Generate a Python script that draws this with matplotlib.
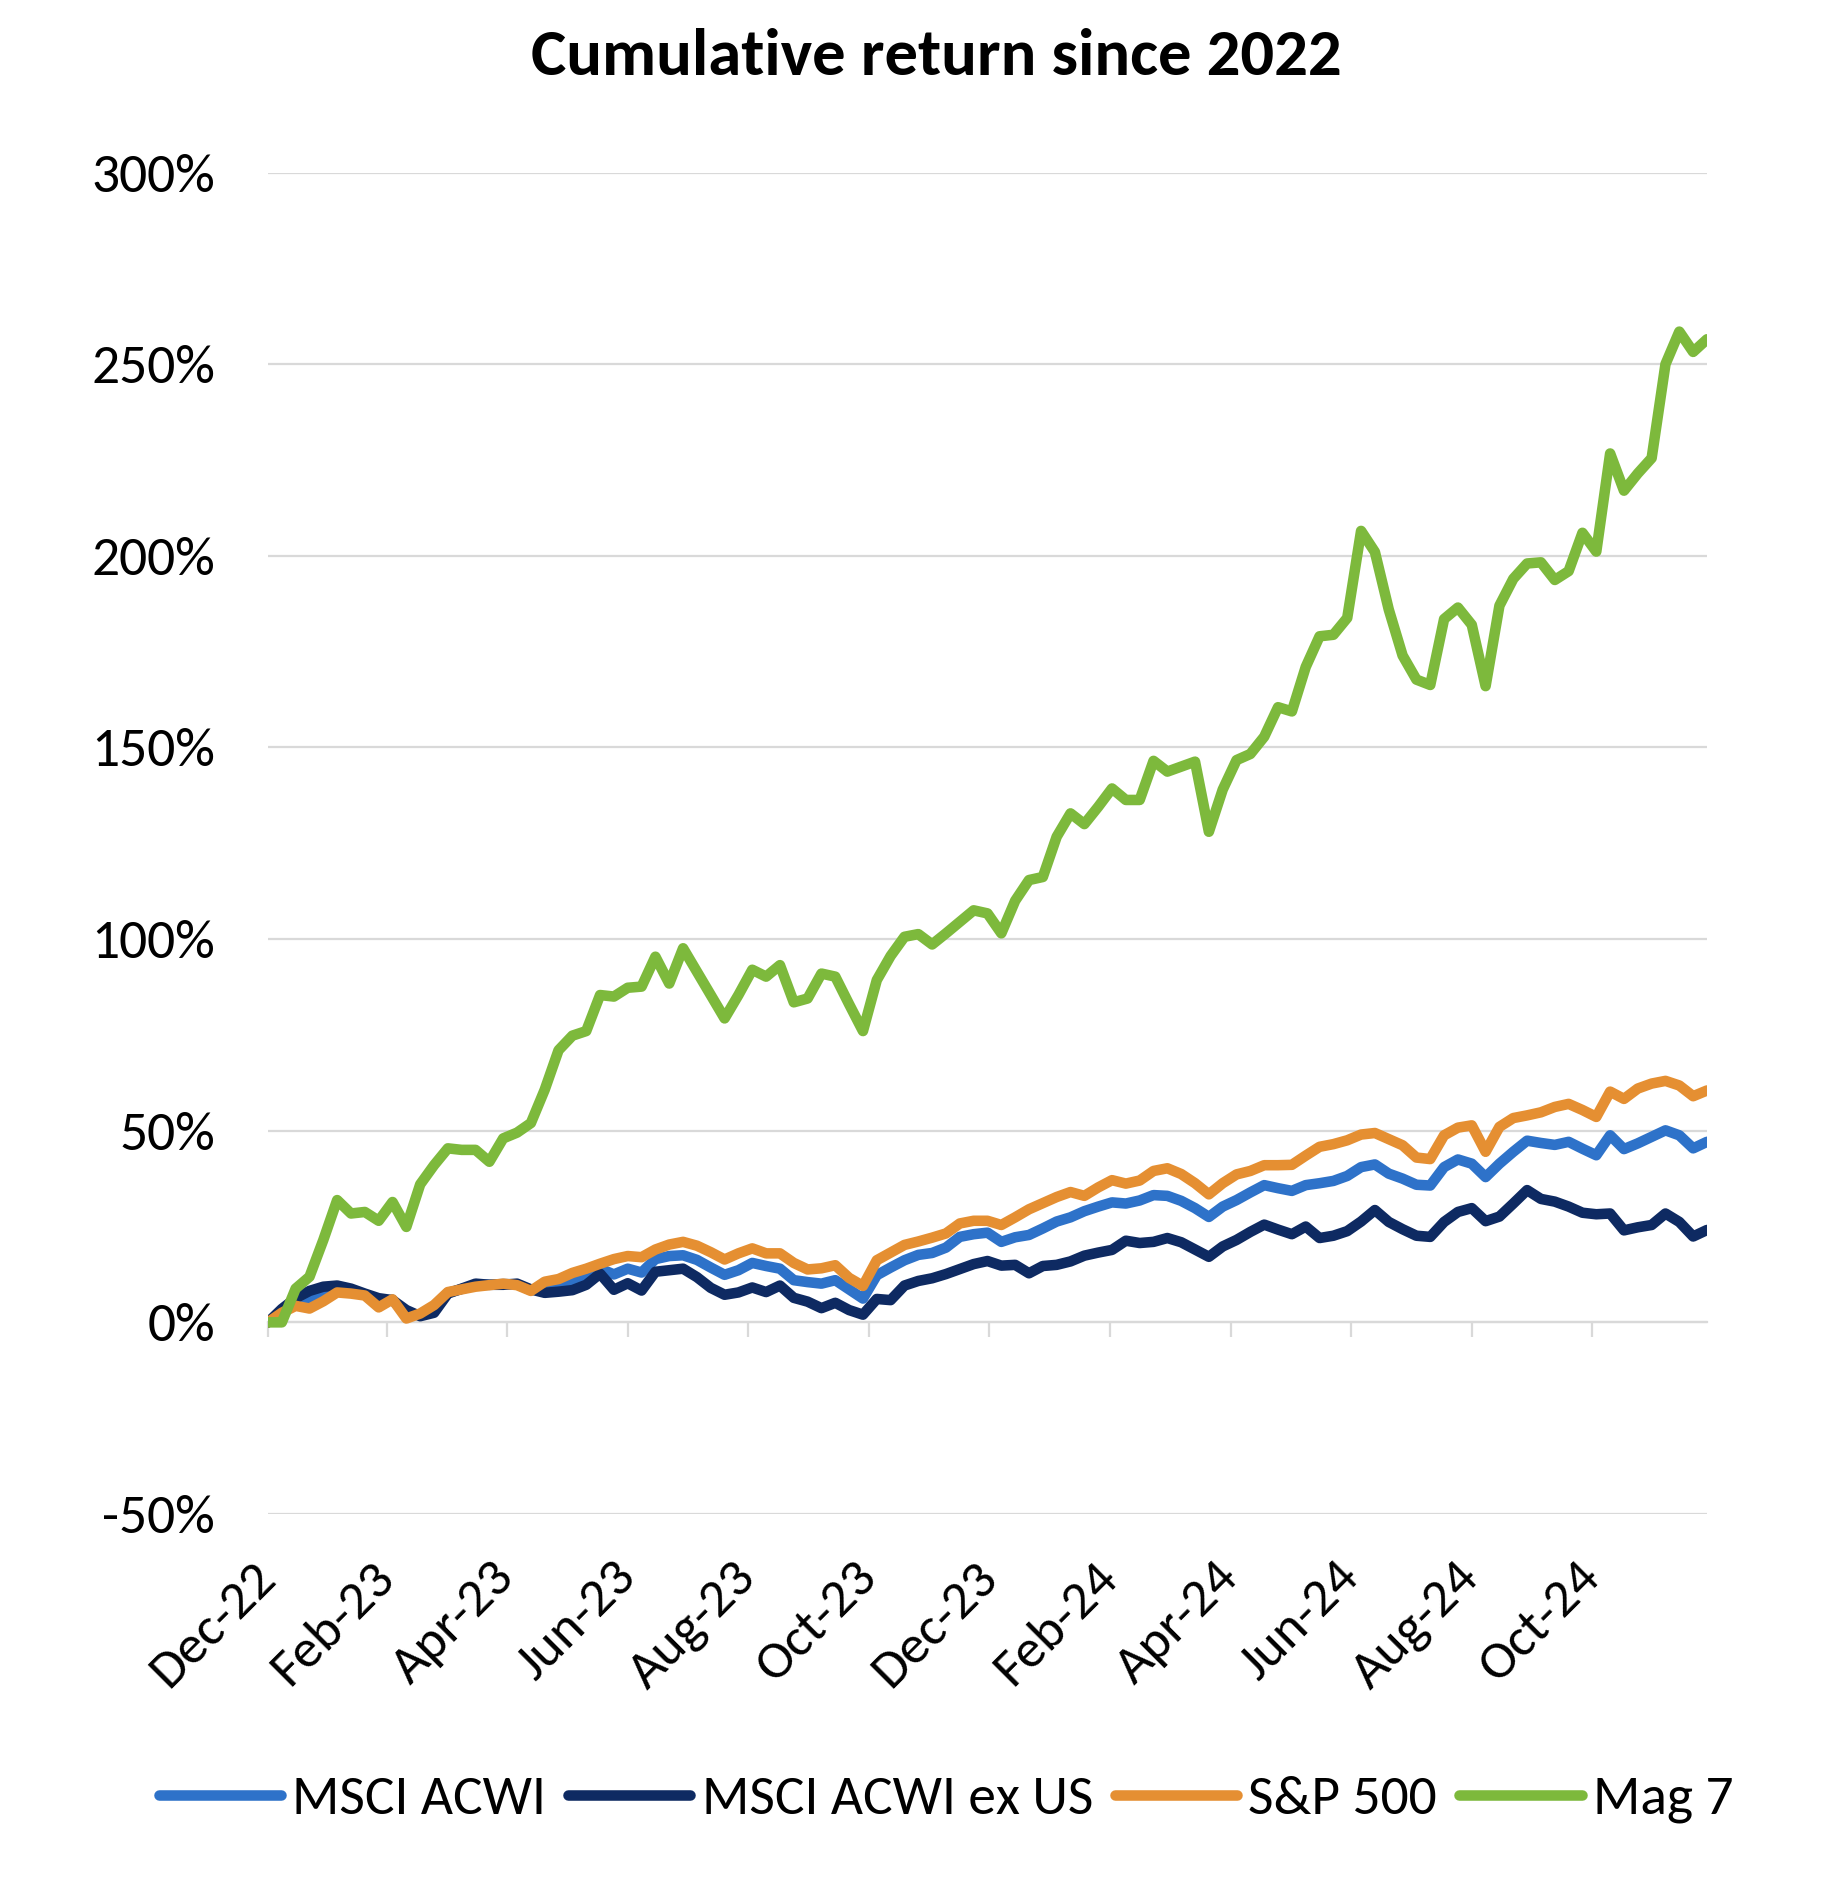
import numpy as np
import pandas as pd
import matplotlib
matplotlib.use("Agg")
import matplotlib.pyplot as plt
from matplotlib import font_manager

# weekly closes, cumulative return (%) since 30-Dec-2022
dates = pd.date_range("2022-12-30", periods=105, freq="7D")

acwi = [0, 3, 5.3, 6, 7.4, 8.7, 8.2, 7.3, 5, 5.9,
        2, 2, 3.5, 7.7, 8.7, 9.7, 9.8, 10, 9.9, 8.4,
        9.5, 10, 11, 12.2, 14, 12.5, 14, 13, 16.5, 17.3,
        17.5, 16.3, 14.3, 12.4, 13.6, 15.5, 14.7, 14.0, 11.0, 10.5,
        10.1, 11.0, 8.6, 6.2, 12.3, 14.3, 16.2, 17.6, 18.1, 19.5,
        22.3, 23.0, 23.4, 21.0, 22.2, 22.8, 24.5, 26.3, 27.4, 29,
        30.2, 31.3, 31, 31.8, 33.2, 33, 31.7, 29.8, 27.5, 30.2,
        31.9, 33.9, 35.8, 35, 34.3, 35.8, 36.3, 36.9, 38.2, 40.5,
        41.2, 38.8, 37.5, 35.9, 35.7, 40.5, 42.5, 41.4, 37.9, 41.4,
        44.5, 47.4, 46.8, 46.3, 47.1, 45.3, 43.6, 48.8, 45.2, 46.7,
        48.4, 50.1, 48.8, 45.4, 47.1]

acwi_ex_us = [0, 3.5, 6.3, 8.2, 9.3, 9.6, 8.8, 7.5, 6.3, 5.8,
              3.2, 1.6, 2.5, 7.5, 8.8, 10.1, 9.8, 9.8, 10.1, 8.6,
              7.7, 8.0, 8.4, 9.8, 12.7, 8.5, 10.2, 8.3, 13.2, 13.6,
              14.0, 11.8, 9.0, 7.2, 7.8, 9.1, 7.9, 9.6, 6.4, 5.4,
              3.7, 5.1, 3.2, 2.0, 6.1, 5.8, 9.6, 10.8, 11.5, 12.6,
              13.9, 15.2, 16.0, 14.8, 15.0, 12.8, 14.7, 15.0, 15.9, 17.4,
              18.2, 18.9, 21.3, 20.7, 21, 22, 20.9, 19, 17.1, 19.8,
              21.5, 23.6, 25.5, 24.2, 23, 25, 22, 22.6, 23.8, 26.3,
              29.3, 26.2, 24.3, 22.6, 22.3, 26.2, 28.8, 29.8, 26.4, 27.6,
              31, 34.5, 32.2, 31.5, 30.2, 28.6, 28.2, 28.4, 24, 24.8,
              25.4, 28.4, 26.2, 22.4, 24.1]

sp500 = [0, 2.5, 4.3, 3.6, 5.5, 7.8, 7.5, 7.0, 3.9, 6.0,
         1.0, 2.3, 4.5, 7.9, 8.6, 9.3, 9.7, 10.1, 9.7, 8.2,
         10.6, 11.3, 12.9, 14.0, 15.3, 16.5, 17.3, 17.0, 19, 20.3,
         21, 20, 18.3, 16.4, 18, 19.3, 18.0, 18.0, 15.5, 13.8,
         14.1, 14.9, 11.6, 9.5, 16.2, 18.2, 20.2, 21.1, 22.1, 23.2,
         25.8, 26.5, 26.5, 25.4, 27.4, 29.5, 31.1, 32.7, 34.0, 33,
         35.2, 37.1, 36.2, 37, 39.5, 40.2, 38.7, 36.3, 33.4, 36.3,
         38.6, 39.5, 41, 41, 41.1, 43.5, 45.8, 46.5, 47.5, 49,
         49.4, 47.8, 46.2, 43, 42.6, 48.8, 50.8, 51.4, 44.5, 51,
         53.3, 54, 54.8, 56.2, 57, 55.4, 53.6, 60.2, 58.3, 61.0,
         62.3, 63.0, 61.8, 59, 60.5]

mag7 = [0, 0, 8.8, 11.9, 21.5, 31.9, 28.4, 28.8, 26.5, 31.4,
        24.9, 36, 41, 45.4, 45, 45, 41.9, 48, 49.5, 52,
        60.7, 71, 74.8, 76, 85.4, 85, 87.3, 87.6, 95.4, 88.4,
        97.6, 91.5, 85.4, 79.3, 85.4, 92, 90.2, 93.2, 83.5, 84.5,
        91, 90.2, 83, 76, 89.3, 95.6, 100.6, 101.3, 98.6, 101.5,
        104.5, 107.5, 106.7, 101.5, 110, 115.4, 116.2, 126.7, 132.8, 130,
        134.5, 139.3, 136.3, 136.3, 146.5, 143.7, 145, 146.3, 128, 139,
        146.7, 148.3, 152.8, 160.5, 159.4, 171, 179, 179.4, 183.8, 206.5,
        201, 186, 174, 167.7, 166.3, 183.5, 186.5, 182, 166, 187,
        194, 198, 198.3, 193.7, 196, 206, 201.1, 226.7, 217, 221.5,
        225.5, 250, 258.5, 253.2, 256.5]

series_names = ["MSCI ACWI", "MSCI ACWI ex US", "S&P 500", "Mag 7"]
series_colors = ["#2E72C9", "#0E2A62", "#E58F32", "#7DB93C"]

tick_dates = ["2022-12-30", "2023-02-28", "2023-04-30", "2023-06-30",
              "2023-08-30", "2023-10-30", "2023-12-30", "2024-02-29",
              "2024-04-30", "2024-06-30", "2024-08-30", "2024-10-30"]
tick_labels = ["Dec-22", "Feb-23", "Apr-23", "Jun-23", "Aug-23", "Oct-23",
               "Dec-23", "Feb-24", "Apr-24", "Jun-24", "Aug-24", "Oct-24"]
y_ticks = [-50, 0, 50, 100, 150, 200, 250, 300]

names = {f.name for f in font_manager.fontManager.ttflist}
font = "Carlito" if "Carlito" in names else "Lato"
plt.rcParams["font.family"] = [font, "DejaVu Sans"]

grid_color = "#D9D9D9"

fig = plt.figure(figsize=(18.28, 18.92), dpi=100)
ax = fig.add_axes([0.1466, 0.1998, 0.7872, 0.7090])

for vals, name, col in zip([acwi, acwi_ex_us, sp500, mag7], series_names, series_colors):
    ax.plot(dates, vals, color=col, lw=7.6, label=name,
            solid_joinstyle="round", solid_capstyle="round")

ax.set_ylim(-50, 300)
ax.set_xlim(dates[0], dates[-1])
ax.set_yticks(y_ticks)
ax.set_yticklabels([f"{v}%" for v in y_ticks])
ax.yaxis.grid(True, color=grid_color, lw=1.6)
ax.set_axisbelow(True)
for s in ax.spines.values():
    s.set_visible(False)
ax.tick_params(axis="y", length=0, pad=38, labelsize=40, labelcolor="black")

tick_pos = pd.to_datetime(tick_dates)
ax.set_xticks(tick_pos)
ax.set_xticklabels(tick_labels, rotation=45, ha="right", va="center",
                   rotation_mode="anchor")
ax.tick_params(axis="x", length=0, pad=40, labelsize=39)

# category axis line crosses at 0 with outward tick marks
sec = ax.secondary_xaxis(1 / 7)
sec.set_xticks(tick_pos)
sec.tick_params(axis="x", direction="out", length=10.5, width=1.6,
                color=grid_color, labelbottom=False, labeltop=False)
sec.spines["bottom"].set_color(grid_color)
sec.spines["bottom"].set_linewidth(1.6)

fig.text(0.512, 0.970, "Cumulative return since 2022", ha="center", va="center",
         fontsize=48, fontweight="bold")

fig.legend(loc="center", bbox_to_anchor=(0.5175, 0.049), ncol=4, frameon=False,
           fontsize=40, handlelength=2.2, handletextpad=0.2, columnspacing=0.4)

fig.savefig("out.png", dpi=100)
